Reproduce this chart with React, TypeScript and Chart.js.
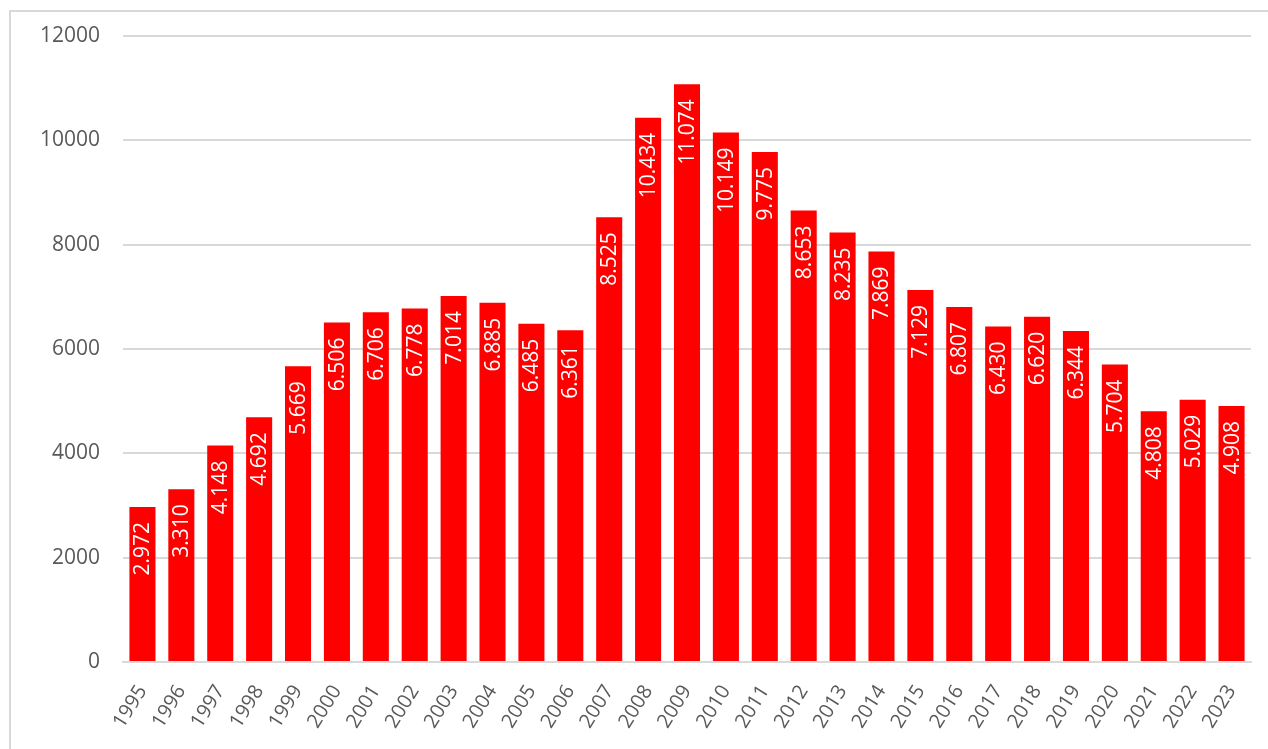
import React, { useEffect, useRef } from "react";
import { Chart, registerables } from "chart.js";

Chart.register(...registerables);

const years = [
  "1995", "1996", "1997", "1998", "1999", "2000", "2001", "2002", "2003", "2004",
  "2005", "2006", "2007", "2008", "2009", "2010", "2011", "2012", "2013", "2014",
  "2015", "2016", "2017", "2018", "2019", "2020", "2021", "2022", "2023",
];
const values = [
  2972, 3310, 4148, 4692, 5669, 6506, 6706, 6778, 7014, 6885,
  6485, 6361, 8525, 10434, 11074, 10149, 9775, 8653, 8235, 7869,
  7129, 6807, 6430, 6620, 6344, 5704, 4808, 5029, 4908,
];
const yTicks = [0, 2000, 4000, 6000, 8000, 10000, 12000];

const FONT = "'Open Sans', 'Noto Sans', sans-serif";

function fmt(v: number): string {
  const s = String(Math.round(v));
  return s.replace(/\B(?=(\d{3})+(?!\d))/g, ".");
}

const labelPlugin = {
  id: "barLabels",
  afterDatasetsDraw(chart: any) {
    const ctx = chart.ctx;
    const meta = chart.getDatasetMeta(0);
    ctx.save();
    ctx.fillStyle = "#ffffff";
    ctx.font = `21px ${FONT}`;
    ctx.textAlign = "right";
    ctx.textBaseline = "middle";
    meta.data.forEach((bar: any, i: number) => {
      const v = chart.data.datasets[0].data[i] as number;
      ctx.save();
      ctx.translate(bar.x, bar.y + 15);
      ctx.rotate(-Math.PI / 2);
      ctx.fillText(fmt(v), 0, 1);
      ctx.restore();
    });
    ctx.restore();
  },
};

export default function App() {
  const ref = useRef<HTMLCanvasElement>(null);
  useEffect(() => {
    if (!ref.current) return;
    const chart = new Chart(ref.current, {
      type: "bar",
      data: {
        labels: years,
        datasets: [
          {
            data: values,
            backgroundColor: "#ff0000",
            borderWidth: 0,
            barPercentage: 0.67,
            categoryPercentage: 1,
          },
        ],
      },
      options: {
        animation: false,
        responsive: false,
        maintainAspectRatio: false,
        layout: { padding: { left: 0, right: 17, top: 36, bottom: 0 } },
        plugins: { legend: { display: false }, tooltip: { enabled: false } },
        scales: {
          x: {
            grid: { display: false, drawTicks: false },
            border: { display: true, color: "#d9d9d9", width: 2 },
            ticks: {
              color: "#595959",
              font: { family: FONT, size: 20 },
              maxRotation: 58,
              minRotation: 58,
              padding: 19,
              autoSkip: false,
            },
            afterFit(scale: any) {
              scale.height = 87;
              scale.paddingLeft = 0;
              scale.paddingRight = 0;
            },
          },
          y: {
            min: 0,
            max: 12000,
            afterBuildTicks(scale: any) {
              scale.ticks = yTicks.map((v) => ({ value: v }));
            },
            grid: { color: "#d9d9d9", lineWidth: 2, drawTicks: false },
            border: { display: false },
            ticks: {
              color: "#595959",
              font: { family: FONT, size: 21 },
              padding: 23,
              callback: (v: any) => String(v),
            },
            afterFit(scale: any) {
              scale.width = 123;
              scale.paddingTop = 0;
              scale.paddingBottom = 0;
            },
          },
        },
      },
      plugins: [labelPlugin],
    });
    return () => chart.destroy();
  }, []);
  return (
    <div
      style={{
        position: "fixed",
        left: 0,
        top: 0,
        width: 1268,
        height: 749,
        overflow: "hidden",
        background: "#ffffff",
      }}
    >
      <div
        style={{
          position: "absolute",
          left: 9,
          top: 10,
          width: 1300,
          height: 800,
          border: "2px solid #d9d9d9",
          boxSizing: "border-box",
        }}
      />
      <canvas
        ref={ref}
        width={1268}
        height={749}
        style={{ position: "absolute", left: 0, top: 0, width: 1268, height: 749 }}
      />
    </div>
  );
}
